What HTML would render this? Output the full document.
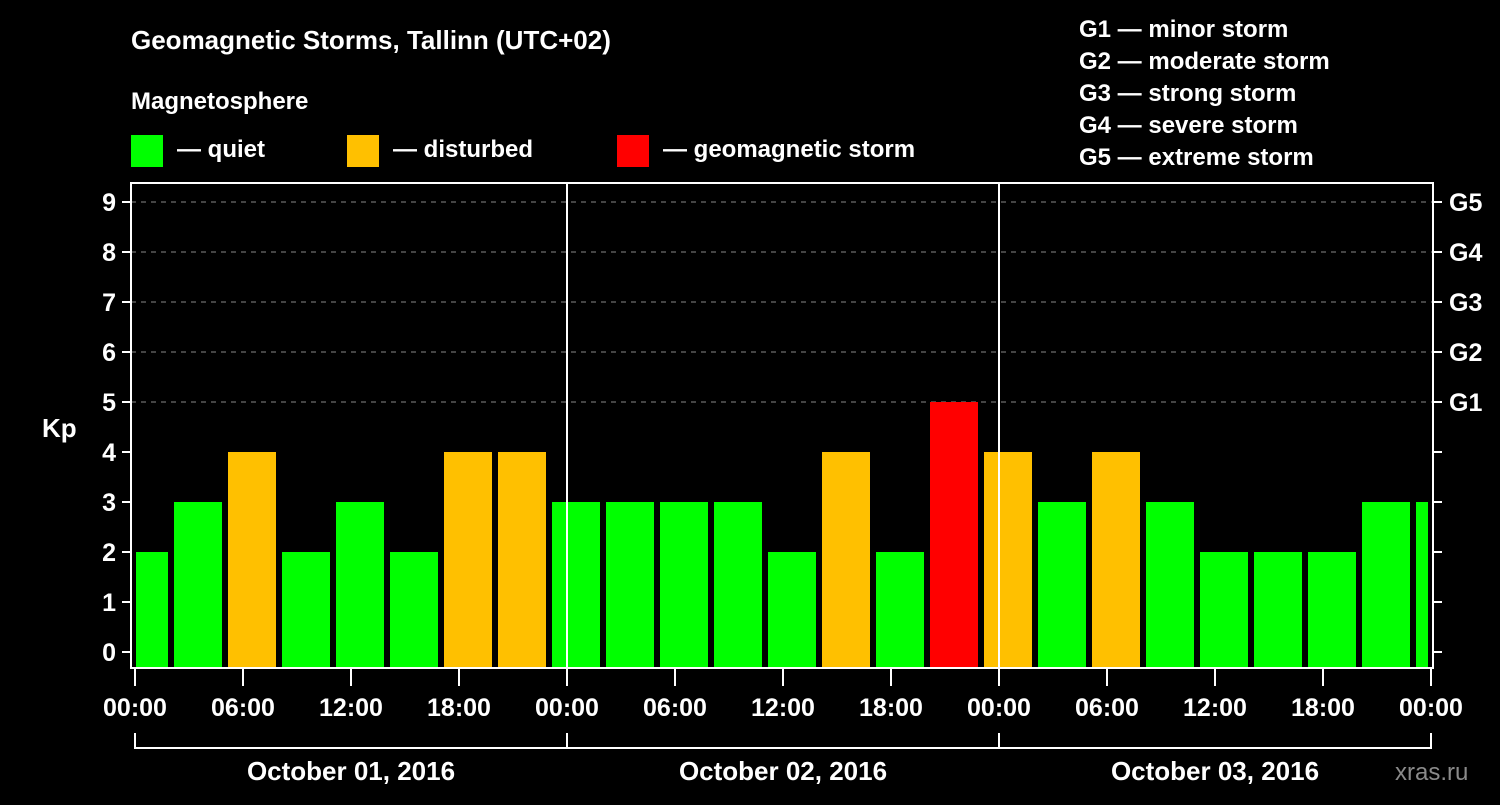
<!DOCTYPE html>
<html><head><meta charset="utf-8"><style>
body{margin:0;background:#000;width:1500px;height:800px;overflow:hidden}
svg text{font-family:"Liberation Sans",Arial,sans-serif;font-weight:bold;fill:#fff}
</style></head><body>
<svg id="chart" width="1500" height="800" viewBox="0 0 1500 800">
<text x="131" y="49" font-size="26">Geomagnetic Storms, Tallinn (UTC+02)</text>
<text x="131" y="109" font-size="24">Magnetosphere</text>
<g>
<rect x="131" y="135" width="32" height="32" fill="#00ff00"/>
<text x="177" y="157" font-size="24">— quiet</text>
<rect x="347" y="135" width="32" height="32" fill="#ffc000"/>
<text x="393" y="157" font-size="24">— disturbed</text>
<rect x="617" y="135" width="32" height="32" fill="#ff0000"/>
<text x="663" y="157" font-size="24">— geomagnetic storm</text>
</g>
<g font-size="24">
<text x="1079" y="37">G1 — minor storm</text>
<text x="1079" y="69">G2 — moderate storm</text>
<text x="1079" y="101">G3 — strong storm</text>
<text x="1079" y="133">G4 — severe storm</text>
<text x="1079" y="165">G5 — extreme storm</text>
</g>
<text x="42" y="437" font-size="26">Kp</text>
<text x="1395" y="780" font-size="24" fill="#888" style="fill:#8a8a8a;font-weight:normal">xras.ru</text>
<g id="grid"></g><g id="bars"></g><g id="axes"></g>
</svg>
<script>
const kpValues=[2,3,4,2,3,2,4,4,3,3,3,3,2,4,2,5,4,3,4,3,2,2,2,3,3];
const yTicks=[0,1,2,3,4,5,6,7,8,9];
const gLabels=["G1","G2","G3","G4","G5"];
const xTickLabels=["00:00","06:00","12:00","18:00","00:00","06:00","12:00","18:00","00:00","06:00","12:00","18:00","00:00"];
const dayLabels=["October 01, 2016","October 02, 2016","October 03, 2016"];
const NS="http://www.w3.org/2000/svg";
const L=131,R=1433,T=183,B=668,X0=135,HP=18;
const xs=h=>X0+h*HP; const ys=v=>652-v*50;
function mk(p,tag,a){const e=document.createElementNS(NS,tag);for(const k in a)e.setAttribute(k,a[k]);p.appendChild(e);return e;}
const grid=document.getElementById('grid'),bars=document.getElementById('bars'),axes=document.getElementById('axes');
yTicks.forEach(v=>{
 if(v>=5){const g=mk(grid,'line',{x1:L,x2:R,y1:ys(v),y2:ys(v),stroke:'#888','stroke-dasharray':'5,5','stroke-width':1});
 }
 const t=mk(axes,'line',{x1:122,x2:L,y1:ys(v),y2:ys(v),stroke:'#fff','stroke-width':2});
 
 const t2=mk(axes,'line',{x1:R,x2:1442,y1:ys(v),y2:ys(v),stroke:'#fff','stroke-width':2});
 
 const lb=mk(axes,'text',{x:116,y:ys(v)+9,'font-size':25,'text-anchor':'end'});lb.textContent=v;
 
});
gLabels.forEach((g,i)=>{const lb=mk(axes,'text',{x:1449,y:ys(5+i)+9,'font-size':25});lb.textContent=g;
 });
mk(bars,'clipPath',{id:'pc'});
mk(bars.lastChild,'rect',{x:136,y:T,width:1428-136,height:B-T});
kpValues.forEach((v,i)=>{
 const x1=xs(3*i-1)+3,x2=xs(3*i+2)-3;
 const c=v>=5?'#ff0000':(v>=4?'#ffc000':'#00ff00');
 const r=mk(bars,'rect',{x:x1,y:ys(v),width:x2-x1,height:B-ys(v),fill:c,'clip-path':'url(#pc)'});
 
});
[1,2].forEach(d=>{const l=mk(axes,'line',{x1:xs(24*d),x2:xs(24*d),y1:T,y2:B,stroke:'#fff','stroke-width':2});
 });
const fr=mk(axes,'rect',{x:L,y:T,width:R-L,height:B-T,fill:'none',stroke:'#fff','stroke-width':2});

xTickLabels.forEach((s,i)=>{const x=xs(6*i);
 const t=mk(axes,'line',{x1:x,x2:x,y1:B,y2:686,stroke:'#fff','stroke-width':2});
 
 const lb=mk(axes,'text',{x:x,y:716,'font-size':25,'text-anchor':'middle'});lb.textContent=s;
 });
const br=mk(axes,'path',{d:'M'+xs(0)+' 733V748H'+xs(72)+'V733',fill:'none',stroke:'#fff','stroke-width':2});

[1,2].forEach(d=>{const l=mk(axes,'line',{x1:xs(24*d),x2:xs(24*d),y1:733,y2:748,stroke:'#fff','stroke-width':2});
 });
dayLabels.forEach((s,i)=>{const lb=mk(axes,'text',{x:xs(24*i+12),y:780,'font-size':26,'text-anchor':'middle'});lb.textContent=s;
 });
</script>
</body></html>
